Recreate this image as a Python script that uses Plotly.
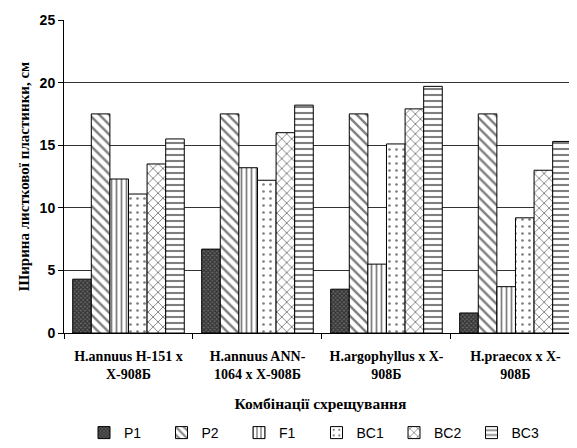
import plotly.graph_objects as go

categories = [
    "H.annuus H-151 x<br>X-908Б",
    "H.annuus ANN-<br>1064 x X-908Б",
    "H.argophyllus x X-<br>908Б",
    "H.praecox x X-<br>908Б",
]
series_names = ["P1", "P2", "F1", "BC1", "BC2", "BC3"]
P1 = [4.3, 6.7, 3.5, 1.6]
P2 = [17.5, 17.5, 17.5, 17.5]
F1 = [12.3, 13.2, 5.5, 3.7]
BC1 = [11.1, 12.2, 15.1, 9.2]
BC2 = [13.5, 16.0, 17.9, 13.0]
BC3 = [15.5, 18.2, 19.7, 15.3]
y_ticks = [0, 5, 10, 15, 20, 25]

values = [P1, P2, F1, BC1, BC2, BC3]
patterns = [
    dict(shape="x", size=3, solidity=0.6, fgcolor="#000000", bgcolor="#666666"),
    dict(shape="\\", size=7, solidity=0.35, fgcolor="#000000", bgcolor="#ffffff"),
    dict(shape="|", size=5, solidity=0.35, fgcolor="#000000", bgcolor="#ffffff"),
    dict(shape=".", size=7, solidity=0.12, fgcolor="#000000", bgcolor="#ffffff"),
    dict(shape="x", size=7, solidity=0.25, fgcolor="#000000", bgcolor="#ffffff"),
    dict(shape="-", size=6, solidity=0.35, fgcolor="#000000", bgcolor="#ffffff"),
]

fig = go.Figure()
for name, vals, pat in zip(series_names, values, patterns):
    fig.add_trace(go.Bar(
        name=name, x=categories, y=vals,
        marker=dict(color="#ffffff", pattern=pat,
                    line=dict(color="#000000", width=1)),
    ))

W, H = 569, 440  # page has an 8px body margin
fig.update_layout(
    width=W, height=H,
    margin=dict(l=56, r=0, t=12, b=115, autoexpand=False),
    paper_bgcolor="#ffffff", plot_bgcolor="#ffffff",
    barmode="group", bargap=0.135, bargroupgap=0,
    showlegend=True,
    legend=dict(orientation="h", x=76 / W, xref="container", xanchor="left",
                y=15 / H, yref="container", yanchor="middle",
                font=dict(family="Liberation Sans, Arial", size=14, color="#000000"),
                entrywidth=32.5, entrywidthmode="pixels",
                itemwidth=30, tracegroupgap=0),
    font=dict(family="Liberation Serif, Times New Roman", color="#000000"),
)
fig.update_xaxes(
    range=[-0.5, 3.477], automargin=False,
    showline=True, linecolor="#000000", linewidth=1,
    ticks="outside", tickson="boundaries", ticklen=5, tickcolor="#000000",
    ticklabelstandoff=10,
    tickfont=dict(family="Liberation Serif, Times New Roman", size=14, color="#000000", weight="bold"),
    title=dict(text="<b>Комбінації схрещування</b>",
               font=dict(family="Liberation Serif, Times New Roman", size=15.5, color="#000000"),
               standoff=17),
    showgrid=False,
)
fig.update_yaxes(
    range=[0, 25], tickvals=y_ticks, automargin=False,
    showline=True, linecolor="#000000", linewidth=1,
    ticks="outside", ticklen=5, tickcolor="#000000",
    tickfont=dict(family="Liberation Sans, Arial", size=14, color="#000000", weight="bold"),
    showgrid=True, gridcolor="#333333", gridwidth=1,
    zeroline=False,
    title=dict(text="<b>Ширина листкової пластинки, см</b>",
               font=dict(family="Liberation Serif, Times New Roman", size=15, color="#000000"),
               standoff=6),
)
fig.write_html("out.html")
